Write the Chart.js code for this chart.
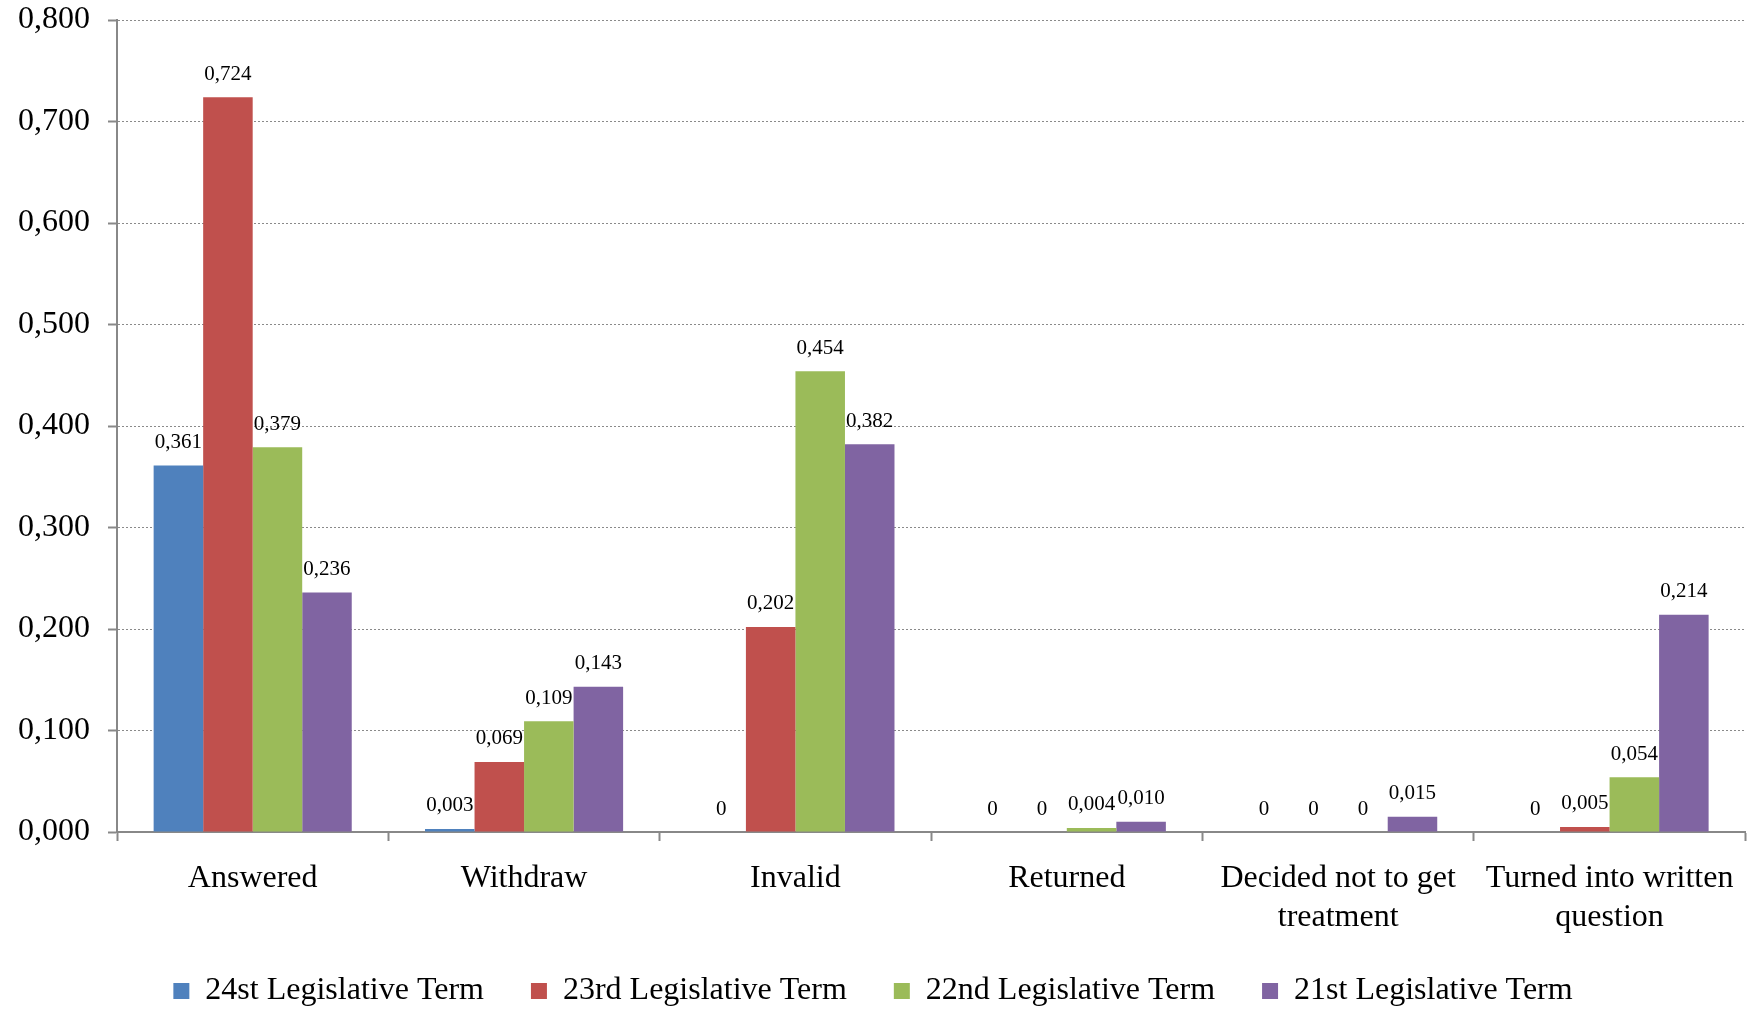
<!DOCTYPE html>
<html>
<head>
<meta charset="utf-8">
<script src="https://cdn.jsdelivr.net/npm/chart.js@4.4.0/dist/chart.umd.min.js"></script>
<style>
  body { margin: 0; background: #fff; }
  #wrap { width: 1753px; height: 1009px; }
</style>
</head>
<body>
<div id="wrap"><canvas id="questionsChart"></canvas></div>
<script>
// categories and series
const categories = [
  'Answered',
  'Withdraw',
  'Invalid',
  'Returned',
  ['Decided not to get', 'treatment'],
  ['Turned into written', 'question']
];
const term24 = [0.361, 0.003, 0, 0, 0, 0];
const term23 = [0.724, 0.069, 0.202, 0, 0, 0.005];
const term22 = [0.379, 0.109, 0.454, 0.004, 0, 0.054];
const term21 = [0.236, 0.143, 0.382, 0.010, 0.015, 0.214];
const seriesNames = ['24st Legislative Term', '23rd Legislative Term', '22nd Legislative Term', '21st Legislative Term'];
const seriesColors = ['#4F81BD', '#C0504D', '#9BBB59', '#8064A2'];

const serif = 'Liberation Serif';
Chart.defaults.color = '#000';
Chart.defaults.font.family = serif;

function fmt(v) {
  if (v === 0) return '0';
  return v.toFixed(3).replace('.', ',');
}

// labels on top of each bar
const barLabels = {
  id: 'barLabels',
  afterDatasetsDraw(chart) {
    const ctx = chart.ctx;
    ctx.save();
    ctx.font = '21px "' + serif + '"';
    ctx.fillStyle = '#000';
    ctx.textAlign = 'center';
    ctx.textBaseline = 'middle';
    chart.data.datasets.forEach((ds, i) => {
      const meta = chart.getDatasetMeta(i);
      meta.data.forEach((bar, j) => {
        ctx.fillText(fmt(ds.data[j]), bar.x, bar.y - 23);
      });
    });
    ctx.restore();
  }
};

const allSeries = [term24, term23, term22, term21];

new Chart(document.getElementById('questionsChart'), {
  type: 'bar',
  data: {
    labels: categories,
    datasets: allSeries.map((d, i) => ({
      label: seriesNames[i],
      data: d,
      backgroundColor: seriesColors[i],
      borderWidth: 0
    }))
  },
  options: {
    responsive: true,
    maintainAspectRatio: false,
    animation: false,
    categoryPercentage: 0.73,
    barPercentage: 1,
    layout: { padding: { top: 20, right: 7, left: 0, bottom: -8 } },
    plugins: {
      tooltip: { enabled: false },
      legend: {
        position: 'bottom',
        labels: {
          font: { size: 32, family: serif, lineHeight: 1 },
          boxWidth: 16,
          boxHeight: 16,
          padding: 39,
          color: '#000',
          generateLabels(chart) {
            const items = Chart.defaults.plugins.legend.labels.generateLabels(chart);
            // a little extra room after each entry except the last
            items.forEach((it, i) => { if (i < items.length - 1) it.text = it.text + ' '; });
            return items;
          }
        }
      }
    },
    scales: {
      x: {
        afterFit(scale) { scale.height = 104; },
        grid: {
          offset: true,
          drawOnChartArea: false,
          drawTicks: true,
          tickLength: 9,
          tickColor: '#888',
          tickWidth: 2
        },
        border: { color: '#888', width: 2 },
        ticks: {
          padding: 19,
          maxRotation: 0,
          autoSkip: false,
          font: { size: 32, family: serif, lineHeight: 1.19 },
          color: '#000'
        }
      },
      y: {
        min: 0,
        max: 0.8,
        afterFit(scale) {
          scale.width = 117;
          scale.paddingTop = 0;
          scale.paddingBottom = 0;
        },
        grid: {
          color: '#8a8a8a',
          lineWidth: 1,
          tickLength: 9,
          tickColor: '#888',
          tickWidth: 2
        },
        border: { color: '#888', width: 2, dash: [2, 2] },
        ticks: {
          stepSize: 0.1,
          padding: 18,
          font: { size: 32, family: serif },
          color: '#000',
          callback: v => v.toFixed(3).replace('.', ',')
        }
      }
    }
  },
  plugins: [barLabels]
});
</script>
</body>
</html>
